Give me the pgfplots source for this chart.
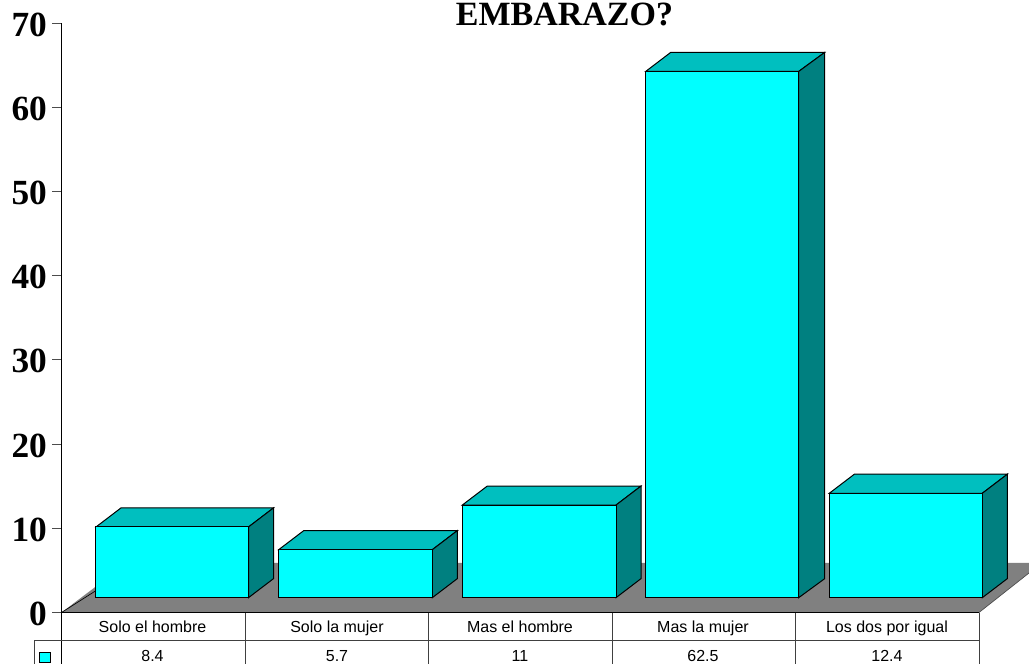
\documentclass[border=0pt]{standalone}
\usepackage{pgfplots}
\usepackage{fontspec}
\pgfplotsset{compat=1.18}
\setmainfont{Liberation Sans}
\newfontfamily\timesbf[BoldFont={Liberation Serif Bold}]{Liberation Serif}
\definecolor{front}{HTML}{00FFFF}
\definecolor{topc}{HTML}{00BFBF}
\definecolor{sidec}{HTML}{008080}
\definecolor{floorc}{HTML}{808080}
\tikzset{face/.style={draw=black,line width=0.75pt,line join=miter},
 tab/.style={draw=black!75,line width=0.75pt},
 cell/.style={anchor=base,inner sep=0pt,font=\fontsize{12}{14}\selectfont}}
\begin{document}
\begin{tikzpicture}
\useasboundingbox (0,0) rectangle (771.75pt,498pt);
\begin{axis}[
 at={(46.125pt,0pt)},anchor=south west,
 scale only axis,width=725.625pt,height=480.67pt,
 xmin=61.5,xmax=1029,ymin=-6.116,ymax=70,
 clip=false,
 axis x line=none,axis y line=left,
 axis line style={-,black,line width=0.85pt},
 ytick={0,10,20,30,40,50,60,70},
 tick align=outside,
 major tick length=6.75pt,
 tick style={black!70,line width=0.75pt},
 /pgf/number format/assume math mode=true,
 yticklabel style={font=\timesbf\bfseries\fontsize{26.5}{28}\selectfont,inner sep=0pt,xshift=-4pt,yshift=-1pt},
]
% floor
\addplot[fill=floorc,draw=none] coordinates {(61.5,0)(979,0)(1029,4.69)(1029,5.88)(127,5.88)} --cycle;
\addplot[black,line width=0.85pt] coordinates {(61.5,0)(979,0)};
\addplot[black,line width=0.5pt] coordinates {(61.5,0)(96,2.6)};
\addplot[black!70,line width=0.5pt] coordinates {(979,0)(1029,4.69)};
% bar 1: 8.4
\addplot[face,fill=topc] coordinates {(96,10.16)(248.5,10.16)(273.5,12.42)(121,12.42)} --cycle;
\addplot[face,fill=sidec] coordinates {(248.5,1.76)(273.5,4.02)(273.5,12.42)(248.5,10.16)} --cycle;
\addplot[face,fill=front] coordinates {(96,1.76)(248.5,1.76)(248.5,10.16)(96,10.16)} --cycle;
% bar 2: 5.7
\addplot[face,fill=topc] coordinates {(278.7,7.46)(432.3,7.46)(457.3,9.72)(303.7,9.72)} --cycle;
\addplot[face,fill=sidec] coordinates {(432.3,1.76)(457.3,4.02)(457.3,9.72)(432.3,7.46)} --cycle;
\addplot[face,fill=front] coordinates {(278.7,1.76)(432.3,1.76)(432.3,7.46)(278.7,7.46)} --cycle;
% bar 3: 11
\addplot[face,fill=topc] coordinates {(462.3,12.76)(616,12.76)(641,15.02)(487.3,15.02)} --cycle;
\addplot[face,fill=sidec] coordinates {(616,1.76)(641,4.02)(641,15.02)(616,12.76)} --cycle;
\addplot[face,fill=front] coordinates {(462.3,1.76)(616,1.76)(616,12.76)(462.3,12.76)} --cycle;
% bar 4: 62.5
\addplot[face,fill=topc] coordinates {(645.7,64.26)(798.7,64.26)(824.7,66.52)(670.7,66.52)} --cycle;
\addplot[face,fill=sidec] coordinates {(798.7,1.76)(824.7,4.02)(824.7,66.52)(798.7,64.26)} --cycle;
\addplot[face,fill=front] coordinates {(645.7,1.76)(798.7,1.76)(798.7,64.26)(645.7,64.26)} --cycle;
% bar 5: 12.4
\addplot[face,fill=topc] coordinates {(829.3,14.16)(982.3,14.16)(1007.3,16.42)(854.3,16.42)} --cycle;
\addplot[face,fill=sidec] coordinates {(982.3,1.76)(1007.3,4.02)(1007.3,16.42)(982.3,14.16)} --cycle;
\addplot[face,fill=front] coordinates {(829.3,1.76)(982.3,1.76)(982.3,14.16)(829.3,14.16)} --cycle;
% data table
\addplot[tab] coordinates {(34.5,-3.33)(979,-3.33)};
\addplot[tab] coordinates {(34.5,-3.33)(34.5,-6.116)};
\addplot[tab] coordinates {(245.2,0)(245.2,-6.116)};
\addplot[tab] coordinates {(428.8,0)(428.8,-6.116)};
\addplot[tab] coordinates {(612.4,0)(612.4,-6.116)};
\addplot[tab] coordinates {(795.6,0)(795.6,-6.116)};
\addplot[tab] coordinates {(979,0)(979,-6.116)};
\addplot[draw=black,fill=front,line width=0.7pt] coordinates {(39.8,-4.72)(50.3,-4.72)(50.3,-5.98)(39.8,-5.98)} --cycle;
\node[cell] at (axis cs:152.5,-2.40) {Solo el hombre};
\node[cell] at (axis cs:337,-2.40) {Solo la mujer};
\node[cell] at (axis cs:520,-2.40) {Mas el hombre};
\node[cell] at (axis cs:703,-2.40) {Mas la mujer};
\node[cell] at (axis cs:887,-2.40) {Los dos por igual};
\node[cell] at (axis cs:152.5,-5.84) {8.4};
\node[cell] at (axis cs:337,-5.84) {5.7};
\node[cell] at (axis cs:520,-5.84) {11};
\node[cell] at (axis cs:703,-5.84) {62.5};
\node[cell] at (axis cs:887,-5.84) {12.4};
\node[anchor=base,inner sep=0pt,font=\timesbf\bfseries\fontsize{25.5}{28}\selectfont] at (axis cs:564.5,69.7) {EMBARAZO?};
\end{axis}
\end{tikzpicture}
\end{document}
